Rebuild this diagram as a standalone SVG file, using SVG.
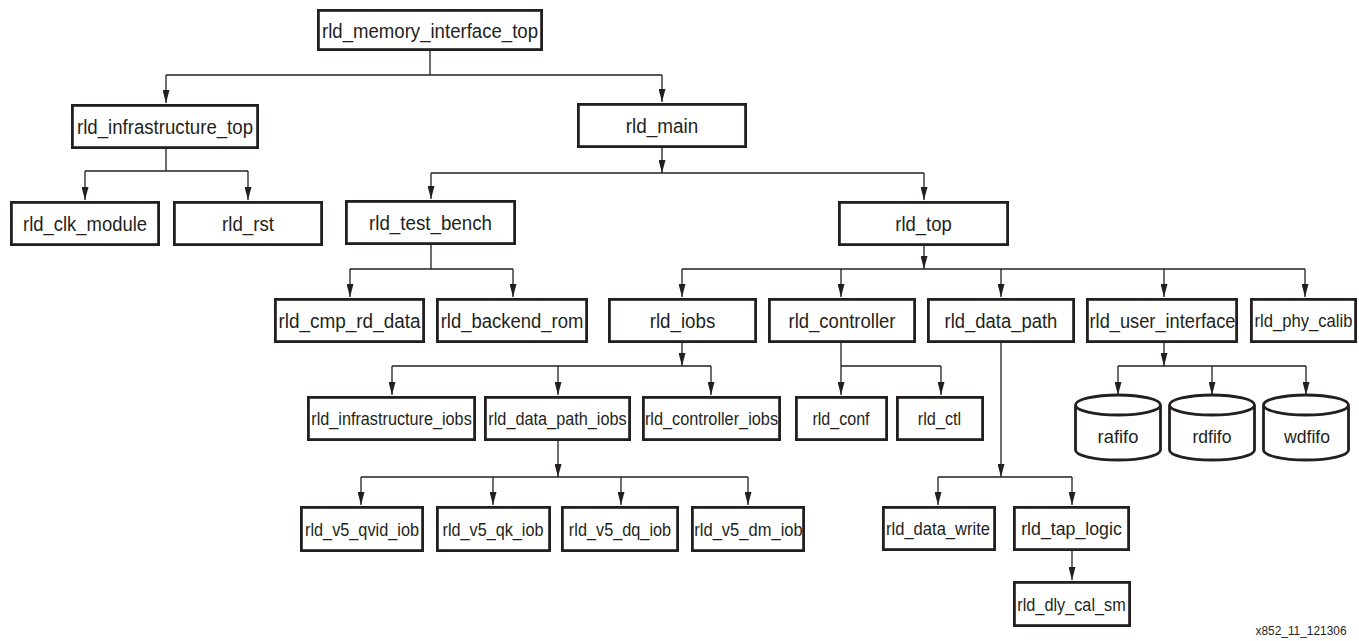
<svg xmlns="http://www.w3.org/2000/svg" width="1359" height="641" viewBox="0 0 1359 641">
<style>
.box{fill:#fff;stroke:#231f20;stroke-width:2.8}
.cyl{fill:#fff;stroke:#231f20;stroke-width:2.8}
.ln{fill:none;stroke:#231f20;stroke-width:1.3}
.arr{fill:none;stroke:#231f20;stroke-width:1.3;marker-end:url(#ah)}
text{font-family:"Liberation Sans",Arial,Helvetica,sans-serif;fill:#231f20;text-anchor:middle}
.L{font-size:19.5px}
.S{font-size:17.5px}
.C{font-size:19px}
.id{font-size:12px;text-anchor:start}
</style>
<defs>
<marker id="ah" markerUnits="userSpaceOnUse" markerWidth="13" markerHeight="7" viewBox="0 0 13 7" refX="13" refY="3.5" orient="auto">
<path d="M0,0 L13,3.5 L0,7 Z" fill="#231f20"/>
</marker>
</defs>
<rect width="1359" height="641" fill="#fff"/>

<g id="connectors">
<path class="ln" d="M430,51 V75 M166,75 H662"/>
<path class="arr" d="M166,75 V103"/>
<path class="arr" d="M662,75 V102"/>
<path class="ln" d="M166,149 V171 M85,171 H248"/>
<path class="arr" d="M85,171 V200"/>
<path class="arr" d="M248,171 V200"/>
<path class="arr" d="M662,148 V173"/>
<path class="ln" d="M431,173 H924"/>
<path class="arr" d="M431,173 V199"/>
<path class="arr" d="M924,173 V200"/>
<path class="ln" d="M431,245 V269 M350,269 H513"/>
<path class="arr" d="M350,269 V297"/>
<path class="arr" d="M513,269 V297"/>
<path class="arr" d="M924,246 V269"/>
<path class="ln" d="M682,269 H1305"/>
<path class="arr" d="M682,269 V297"/>
<path class="arr" d="M841,269 V297"/>
<path class="arr" d="M1001,269 V297"/>
<path class="arr" d="M1164,269 V297"/>
<path class="arr" d="M1305,269 V297"/>
<path class="arr" d="M682,343 V366"/>
<path class="ln" d="M392,366 H711"/>
<path class="arr" d="M392,366 V395"/>
<path class="arr" d="M558,366 V395"/>
<path class="arr" d="M711,366 V395"/>
<path class="arr" d="M841,343 V395"/>
<path class="ln" d="M841,366 H941"/>
<path class="arr" d="M941,366 V395"/>
<path class="arr" d="M1001,343 V477"/>
<path class="ln" d="M938,477 H1072"/>
<path class="arr" d="M938,477 V505"/>
<path class="arr" d="M1072,477 V505"/>
<path class="arr" d="M1164,343 V366"/>
<path class="ln" d="M1118,366 H1306"/>
<path class="arr" d="M1118,366 V395"/>
<path class="arr" d="M1212,366 V395"/>
<path class="arr" d="M1306,366 V395"/>
<path class="arr" d="M558,441 V477"/>
<path class="ln" d="M361,477 H748"/>
<path class="arr" d="M361,477 V505"/>
<path class="arr" d="M493,477 V505"/>
<path class="arr" d="M621,477 V505"/>
<path class="arr" d="M748,477 V505"/>
<path class="arr" d="M1072,551 V580"/>
</g>

<g id="rld_memory_interface_top"><rect class="box" x="318.4" y="10.4" width="223.2" height="39.2"/><text class="L" x="430" y="38" textLength="216" lengthAdjust="spacingAndGlyphs">rld_memory_interface_top</text></g>
<g id="rld_infrastructure_top"><rect class="box" x="72.4" y="105.4" width="185.2" height="42.2"/><text class="L" x="165" y="134" textLength="176" lengthAdjust="spacingAndGlyphs">rld_infrastructure_top</text></g>
<g id="rld_main"><rect class="box" x="578.4" y="104.4" width="167.2" height="42.2"/><text class="L" x="662" y="133" textLength="72.5" lengthAdjust="spacingAndGlyphs">rld_main</text></g>
<g id="rld_clk_module"><rect class="box" x="11.4" y="202.4" width="147.2" height="42.2"/><text class="L" x="85" y="231" textLength="124" lengthAdjust="spacingAndGlyphs">rld_clk_module</text></g>
<g id="rld_rst"><rect class="box" x="174.4" y="202.4" width="147.2" height="42.2"/><text class="L" x="248" y="231" textLength="52" lengthAdjust="spacingAndGlyphs">rld_rst</text></g>
<g id="rld_test_bench"><rect class="box" x="346.4" y="201.4" width="168.2" height="42.2"/><text class="L" x="430.5" y="230" textLength="123" lengthAdjust="spacingAndGlyphs">rld_test_bench</text></g>
<g id="rld_top"><rect class="box" x="839.4" y="202.4" width="168.2" height="42.2"/><text class="L" x="923.5" y="231" textLength="56.4" lengthAdjust="spacingAndGlyphs">rld_top</text></g>
<g id="rld_cmp_rd_data"><rect class="box" x="275.4" y="299.4" width="148.2" height="42.2"/><text class="L" x="349.5" y="328" textLength="142" lengthAdjust="spacingAndGlyphs">rld_cmp_rd_data</text></g>
<g id="rld_backend_rom"><rect class="box" x="437.4" y="299.4" width="149.2" height="42.2"/><text class="L" x="512" y="328" textLength="142.7" lengthAdjust="spacingAndGlyphs">rld_backend_rom</text></g>
<g id="rld_iobs"><rect class="box" x="609.4" y="299.4" width="146.2" height="42.2"/><text class="L" x="682.5" y="328" textLength="65.7" lengthAdjust="spacingAndGlyphs">rld_iobs</text></g>
<g id="rld_controller"><rect class="box" x="769.4" y="299.4" width="145.2" height="42.2"/><text class="L" x="842" y="328" textLength="107" lengthAdjust="spacingAndGlyphs">rld_controller</text></g>
<g id="rld_data_path"><rect class="box" x="928.4" y="299.4" width="145.2" height="42.2"/><text class="L" x="1001" y="328" textLength="112.8" lengthAdjust="spacingAndGlyphs">rld_data_path</text></g>
<g id="rld_user_interface"><rect class="box" x="1087.4" y="299.4" width="149.2" height="42.2"/><text class="L" x="1162.5" y="328" textLength="146" lengthAdjust="spacingAndGlyphs">rld_user_interface</text></g>
<g id="rld_phy_calib"><rect class="box" x="1251.4" y="299.4" width="104.2" height="42.2"/><text class="S" x="1303.5" y="327" textLength="98" lengthAdjust="spacingAndGlyphs">rld_phy_calib</text></g>
<g id="rld_infrastructure_iobs"><rect class="box" x="308.4" y="397.4" width="166.2" height="42.2"/><text class="S" x="391.5" y="425" textLength="160.5" lengthAdjust="spacingAndGlyphs">rld_infrastructure_iobs</text></g>
<g id="rld_data_path_iobs"><rect class="box" x="485.4" y="397.4" width="144.2" height="42.2"/><text class="S" x="557.5" y="425" textLength="138.3" lengthAdjust="spacingAndGlyphs">rld_data_path_iobs</text></g>
<g id="rld_controller_iobs"><rect class="box" x="643.4" y="397.4" width="136.2" height="42.2"/><text class="S" x="711.5" y="425" textLength="133.2" lengthAdjust="spacingAndGlyphs">rld_controller_iobs</text></g>
<g id="rld_conf"><rect class="box" x="796.4" y="397.4" width="90.2" height="42.2"/><text class="S" x="841" y="425" textLength="57.2" lengthAdjust="spacingAndGlyphs">rld_conf</text></g>
<g id="rld_ctl"><rect class="box" x="897.4" y="397.4" width="85.2" height="42.2"/><text class="S" x="939.5" y="425" textLength="43.4" lengthAdjust="spacingAndGlyphs">rld_ctl</text></g>
<g id="rld_v5_qvid_iob"><rect class="box" x="301.4" y="507.4" width="121.2" height="43.2"/><text class="S" x="362" y="535.5" textLength="114" lengthAdjust="spacingAndGlyphs">rld_v5_qvid_iob</text></g>
<g id="rld_v5_qk_iob"><rect class="box" x="437.4" y="507.4" width="112.2" height="43.2"/><text class="S" x="493" y="535.5" textLength="101" lengthAdjust="spacingAndGlyphs">rld_v5_qk_iob</text></g>
<g id="rld_v5_dq_iob"><rect class="box" x="562.4" y="507.4" width="115.2" height="43.2"/><text class="S" x="620" y="535.5" textLength="102.3" lengthAdjust="spacingAndGlyphs">rld_v5_dq_iob</text></g>
<g id="rld_v5_dm_iob"><rect class="box" x="692.4" y="507.4" width="111.2" height="43.2"/><text class="S" x="748.5" y="535.5" textLength="108.4" lengthAdjust="spacingAndGlyphs">rld_v5_dm_iob</text></g>
<g id="rld_data_write"><rect class="box" x="883.4" y="507.4" width="111.2" height="42.2"/><text class="S" x="938" y="535" textLength="104" lengthAdjust="spacingAndGlyphs">rld_data_write</text></g>
<g id="rld_tap_logic"><rect class="box" x="1014.4" y="507.4" width="114.2" height="42.2"/><text class="S" x="1071.5" y="535" textLength="100.6" lengthAdjust="spacingAndGlyphs">rld_tap_logic</text></g>
<g id="rld_dly_cal_sm"><rect class="box" x="1014.4" y="582.4" width="115.2" height="43.2"/><text class="S" x="1071.5" y="610.5" textLength="108.4" lengthAdjust="spacingAndGlyphs">rld_dly_cal_sm</text></g>

<g id="rafifo"><path class="cyl" d="M1075.5,405 A42.5,10 0 0 1 1160.5,405 V450 A42.5,10 0 0 1 1075.5,450 Z M1075.5,405 A42.5,10 0 0 0 1160.5,405"/><text class="C" x="1118" y="443" textLength="40.8" lengthAdjust="spacingAndGlyphs">rafifo</text></g>
<g id="rdfifo"><path class="cyl" d="M1169.5,405 A42.5,10 0 0 1 1254.5,405 V450 A42.5,10 0 0 1 1169.5,450 Z M1169.5,405 A42.5,10 0 0 0 1254.5,405"/><text class="C" x="1212" y="443" textLength="39" lengthAdjust="spacingAndGlyphs">rdfifo</text></g>
<g id="wdfifo"><path class="cyl" d="M1263.5,405 A42.5,10 0 0 1 1348.5,405 V450 A42.5,10 0 0 1 1263.5,450 Z M1263.5,405 A42.5,10 0 0 0 1348.5,405"/><text class="C" x="1307" y="443" textLength="46" lengthAdjust="spacingAndGlyphs">wdfifo</text></g>

<text class="id" x="1255.5" y="635" textLength="91" lengthAdjust="spacingAndGlyphs">x852_11_121306</text>
</svg>
